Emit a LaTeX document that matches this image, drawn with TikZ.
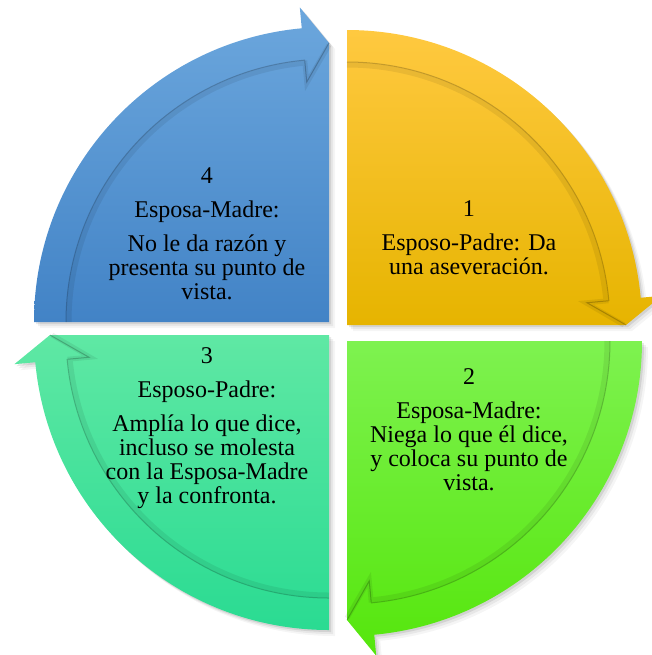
\documentclass[tikz,border=0pt]{standalone}
\usepackage{fontspec}
\setmainfont{Liberation Serif}
\newfontfamily\letra{Liberation Serif}
\usepackage{tikz}
\usetikzlibrary{calc}
\definecolor{amarilloA}{HTML}{FFC940}
\definecolor{amarilloB}{HTML}{E6B400}
\definecolor{verdeA}{HTML}{7EF250}
\definecolor{verdeB}{HTML}{55E60C}
\definecolor{aguaA}{HTML}{5FE8A4}
\definecolor{aguaB}{HTML}{2ADB92}
\definecolor{azulA}{HTML}{6CA7DD}
\definecolor{azulB}{HTML}{4283C6}

\begin{document}
\begin{tikzpicture}[x=0.5pt, y=-0.5pt,
 texto/.style={align=center, anchor=base, inner sep=0pt, font=\letra\fontsize{12}{12}\selectfont}]
\useasboundingbox (0,0) rectangle (652,655);
\foreach \cx/\cy/\s/\ca/\cb in {347/325/-90/amarilloA/amarilloB, 347/341/0/verdeA/verdeB,
                              329/335/90/aguaA/aguaB, 329/322/180/azulA/azulB} {
 \begin{scope}[shift={(\cx,\cy)}]
  \foreach \d/\op in {6/0.04, 4/0.06, 2/0.09}
   \fill[black, opacity=\op, shift={(\d,\d)}] (0,0) -- (\s:295)
     arc[start angle=\s, delta angle=84.7, radius=295] -- (\s+84.7:316) -- (\s+90:279) -- cycle;
  \shade[top color=\ca, bottom color=\cb] (0,0) -- (\s:295)
     arc[start angle=\s, delta angle=84.7, radius=295] -- (\s+84.7:316) -- (\s+90:279) -- cycle;
  % borde interior de la flecha
  \draw[black, opacity=0.07, line width=2.5pt] (\s:260)
     arc[start angle=\s, delta angle=84.7, radius=260] -- (\s+84.7:240) -- (\s+90:277);
  \draw[black, opacity=0.22, line width=0.5pt] (\s:263)
     arc[start angle=\s, delta angle=84.7, radius=263] -- (\s+84.7:241) -- (\s+90:279);
 \end{scope}
}
\node[texto] (paso1) at (469,274) {1\\[5pt]Esposo-Padre: Da\\una aseveración.};
\node[texto] (paso2) at (469,490) {2\\[5pt]Esposa-Madre:\\Niega lo que él dice,\\y coloca su punto de\\vista.};
\node[texto] (paso3) at (207,503) {3\\[5pt]Esposo-Padre:\\[5pt]Amplía lo que dice,\\incluso se molesta\\con la Esposa-Madre\\y la confronta.};
\node[texto] (paso4) at (207,299) {4\\[5pt]Esposa-Madre:\\[5pt]No le da razón y\\presenta su punto de\\vista.};
\end{tikzpicture}
\end{document}
